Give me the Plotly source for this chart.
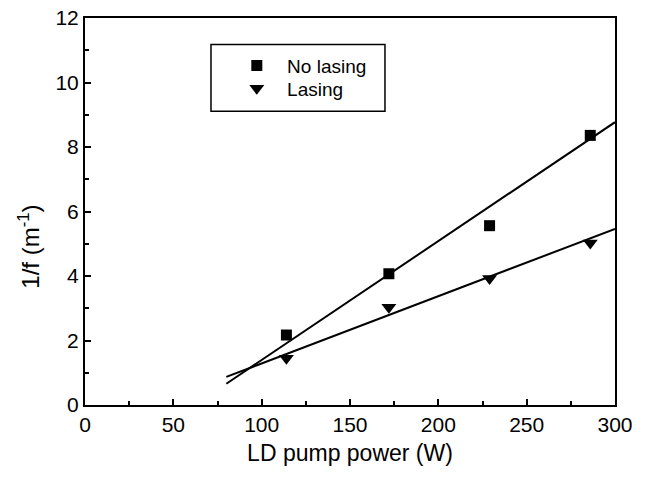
import plotly.graph_objects as go

pump_power = [114, 172, 229, 286]
no_lasing = [2.17, 4.07, 5.56, 8.36]
lasing = [1.45, 3.03, 3.92, 5.02]

fit_x = [80, 300]
fit_no_lasing = [0.66, 8.77]
fit_lasing = [0.87, 5.46]

x_ticks = [0, 50, 100, 150, 200, 250, 300]
y_ticks = [0, 2, 4, 6, 8, 10, 12]

font = "Liberation Sans, Arial, sans-serif"

fig = go.Figure()
fig.add_trace(go.Scatter(x=fit_x, y=fit_no_lasing, mode="lines",
                         line=dict(color="black", width=2), showlegend=False, hoverinfo="skip"))
fig.add_trace(go.Scatter(x=fit_x, y=fit_lasing, mode="lines",
                         line=dict(color="black", width=2), showlegend=False, hoverinfo="skip"))
fig.add_trace(go.Scatter(x=pump_power, y=no_lasing, mode="markers", name=" No lasing",
                         legend="legend",
                         marker=dict(symbol="square", size=11, color="black")))
fig.add_trace(go.Scatter(x=pump_power, y=lasing, mode="markers", name=" Lasing",
                         legend="legend2",
                         marker=dict(symbol="triangle-down", size=13, color="black")))

axis_common = dict(showgrid=False, zeroline=False, showline=True, linecolor="black",
                   linewidth=2, mirror=True, ticks="inside", ticklen=6, tickwidth=1.5,
                   tickcolor="black", automargin=False, ticklabeloverflow="allow",
                   tickfont=dict(family=font, size=21, color="black"))

fig.update_xaxes(range=[0, 300], tickvals=x_ticks,
                 minor=dict(dtick=25, ticks="inside", ticklen=4, tickwidth=1.5, tickcolor="black"),
                 title=dict(text="LD pump power (W)", font=dict(family=font, size=23, color="black"),
                            standoff=10),
                 **axis_common)
fig.update_yaxes(range=[0, 12], tickvals=y_ticks,
                 minor=dict(dtick=1, ticks="inside", ticklen=4, tickwidth=1.5, tickcolor="black"),
                 **axis_common)

# y-axis title (placed as in the reference, slightly below centre)
fig.add_annotation(text="1/f (m<sup>-1</sup>)", xref="paper", yref="paper",
                   x=-0.105, y=0.41, xanchor="center", yanchor="middle",
                   textangle=-90, showarrow=False,
                   font=dict(family=font, size=24, color="black"))

# legend frame
fig.add_shape(type="rect", xref="paper", yref="paper",
              x0=0.2377, x1=0.566, y0=0.759, y1=0.9316,
              line=dict(color="black", width=1.5), fillcolor="white", layer="below")

legend_common = dict(xanchor="left", yanchor="middle", borderwidth=0,
                     bgcolor="rgba(0,0,0,0)",
                     font=dict(family=font, size=19, color="black"), itemwidth=40)

fig.update_layout(
    width=648, height=477,
    margin=dict(l=85, r=33, t=18, b=72),
    paper_bgcolor="white", plot_bgcolor="white",
    legend=dict(x=0.277, y=0.877, **legend_common),
    legend2=dict(x=0.277, y=0.818, **legend_common),
    showlegend=True,
)

fig.write_html("out.html", config={"displayModeBar": False},
               post_script="document.body.style.margin='0';")
